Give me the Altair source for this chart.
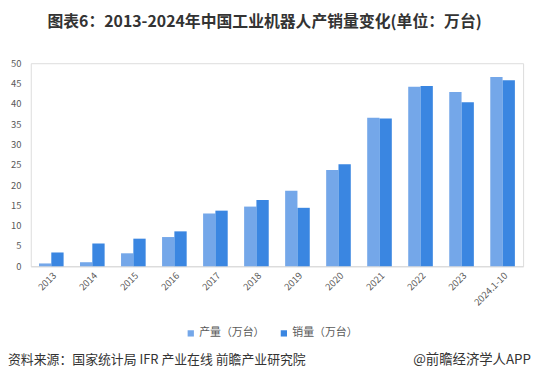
import altair as alt
import pandas as pd

years = ["2013", "2014", "2015", "2016", "2017", "2018", "2019", "2020",
         "2021", "2022", "2023", "2024.1-10"]
production = [0.7, 1.0, 3.2, 7.2, 13.0, 14.7, 18.6, 23.7, 36.6, 44.2, 42.9, 46.6]
sales = [3.4, 5.6, 6.8, 8.6, 13.7, 16.3, 14.4, 25.1, 36.4, 44.4, 40.4, 45.8]
series_names = ["产量（万台）", "销量（万台）"]
colors = ["#74a7e9", "#3a86e1"]

title_text = "图表6：2013-2024年中国工业机器人产销量变化(单位：万台)"
source_text = "资料来源：国家统计局 IFR 产业在线 前瞻产业研究院"
brand_text = "@前瞻经济学人APP"

rows = []
for i, y in enumerate(years):
    rows.append({"year": y, "series": series_names[0], "value": production[i]})
    rows.append({"year": y, "series": series_names[1], "value": sales[i]})
df = pd.DataFrame(rows)

FONT = "Noto Sans CJK SC"

bars = alt.Chart(df).mark_bar().encode(
    x=alt.X("year:N", sort=years, title=None,
            scale=alt.Scale(paddingInner=0.4, paddingOuter=0.2),
            axis=alt.Axis(labelAngle=-45, labelFontSize=9.5, labelColor="#595959",
                          labelFont=FONT, ticks=False, domainColor="#d9d9d9",
                          labelPadding=4, grid=False)),
    xOffset=alt.XOffset("series:N", sort=series_names,
                        scale=alt.Scale(paddingInner=0, paddingOuter=0)),
    y=alt.Y("value:Q", title=None,
            scale=alt.Scale(domain=[0, 50]),
            axis=alt.Axis(values=list(range(0, 51, 5)), labelFontSize=9.5,
                          labelColor="#595959", labelFont=FONT, ticks=False,
                          domain=False, grid=False, labelPadding=10)),
    color=alt.Color("series:N", sort=series_names,
                    scale=alt.Scale(domain=series_names, range=colors),
                    legend=alt.Legend(title=None, orient="none", direction="horizontal",
                                      legendX=156, legendY=267, symbolType="square",
                                      symbolSize=40, symbolStrokeWidth=0,
                                      labelFont=FONT, labelFontSize=11,
                                      labelColor="#595959", columnPadding=14,
                                      symbolOffset=0, labelOffset=3)),
)

title = alt.Chart(pd.DataFrame({"t": [title_text]})).mark_text(
    font=FONT, fontSize=16, fontWeight="bold", color="#333333", align="center",
    baseline="middle"
).encode(text="t:N", x=alt.value(236), y=alt.value(-41.5))

source = alt.Chart(pd.DataFrame({"t": [source_text]})).mark_text(
    font=FONT, fontSize=13, color="#333333", align="left", baseline="middle"
).encode(text="t:N", x=alt.value(-23), y=alt.value(300))

brand = alt.Chart(pd.DataFrame({"t": [brand_text]})).mark_text(
    font=FONT, fontSize=13.5, color="#333333", align="right", baseline="middle"
).encode(text="t:N", x=alt.value(505), y=alt.value(300))

chart = alt.layer(bars, title, source, brand).properties(
    width=497, height=205,
    autosize=alt.AutoSizeParams(type="none"),
    padding={"left": 23, "top": 54, "right": 10, "bottom": 108},
).configure_view(stroke=None).configure(background="white")

chart.save("out.html", embed_options={"renderer": "svg", "actions": False})
